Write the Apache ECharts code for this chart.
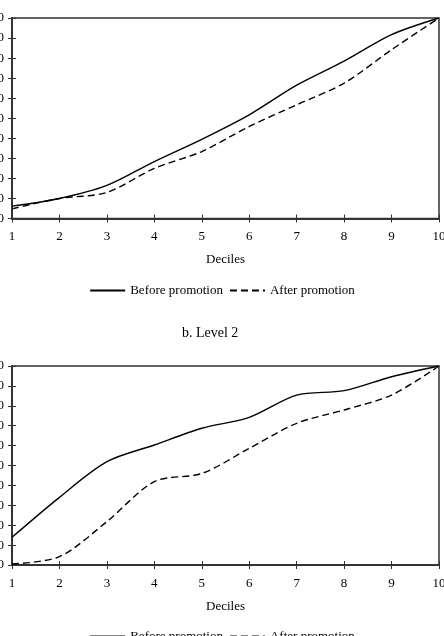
<!DOCTYPE html>
<html>
<head>
<meta charset="utf-8">
<script src="https://cdn.jsdelivr.net/npm/echarts@6/dist/echarts.min.js"></script>
<style>
  html, body { margin: 0; padding: 0; background: #fff; }
  #main { width: 444px; height: 636px; }
</style>
</head>
<body>
<div id="main"></div>
<script>
// deciles on the x axis
const deciles = [1, 2, 3, 4, 5, 6, 7, 8, 9, 10]
// panel a (level 1)
const level1Before = [6.2, 10, 16.5, 28.4, 39.5, 51.7, 66.5, 78.5, 91.7, 100]
const level1After = [4.8, 10, 13, 25, 33.4, 45.9, 56.7, 67.5, 84.2, 100]
// panel b (level 2)
const level2Before = [13.9, 34, 51.9, 60.3, 68.7, 74.2, 85.4, 87.6, 94.6, 100]
const level2After = [0.5, 4.2, 21.8, 41.9, 46, 58.6, 71.2, 77.9, 85.4, 100]
const yTicks = [0, 10, 20, 30, 40, 50, 60, 70, 80, 90, 100]

const font = 'Liberation Serif'
const pairs = vals => deciles.map((d, i) => [d, vals[i]])

// 轴：一个带刻度标签（刻度朝外），一个只画朝内的刻度，拼成十字刻度
const xAxes = gridIndex => ([
    {
        type: 'value', gridIndex, min: 1, max: 10, interval: 1,
        name: 'Deciles', nameLocation: 'middle', nameGap: 35,
        nameTextStyle: { fontFamily: font, fontSize: 13, color: '#000' },
        axisLine: { lineStyle: { color: '#333', width: 2 } },
        axisTick: { length: 4, lineStyle: { color: '#333', width: 1 } },
        axisLabel: { fontFamily: font, fontSize: 13, color: '#000', margin: 12 },
        splitLine: { show: false }
    },
    {
        type: 'value', gridIndex, min: 1, max: 10, interval: 1, position: 'bottom',
        axisLine: { show: false },
        axisTick: { inside: true, length: 4, lineStyle: { color: '#333', width: 1 } },
        axisLabel: { show: false },
        splitLine: { show: false }
    }
])
const yAxes = gridIndex => ([
    {
        type: 'value', gridIndex, min: yTicks[0], max: yTicks[yTicks.length - 1], interval: 10,
        axisLine: { show: true, lineStyle: { color: '#333', width: 2 } },
        axisTick: { show: true, length: 4, lineStyle: { color: '#333', width: 1 } },
        axisLabel: { fontFamily: font, fontSize: 13, color: '#000', margin: 8 },
        splitLine: { show: false }
    },
    {
        type: 'value', gridIndex, min: 0, max: 100, interval: 10, position: 'left',
        axisLine: { show: false },
        axisTick: { show: true, inside: true, length: 4, lineStyle: { color: '#333', width: 1 } },
        axisLabel: { show: false },
        splitLine: { show: false }
    }
])

const line = (name, vals, idx, dashed) => ({
    name,
    type: 'line',
    xAxisIndex: idx,
    yAxisIndex: idx,
    data: pairs(vals),
    smooth: 0.3,
    symbol: 'none',
    lineStyle: { color: '#000', width: 1.4, type: dashed ? [7, 4] : 'solid' },
    itemStyle: { color: '#000' }
})

const legend = top => ({
    top,
    left: 'center',
    itemWidth: 35,
    itemHeight: 10,
    itemGap: 6,
    itemStyle: { opacity: 0 },
    textStyle: { fontFamily: font, fontSize: 13, color: '#000' },
    data: ['Before promotion', 'After promotion']
})

const grid = (top, height) => ({
    left: 12, top, width: 427, height,
    containLabel: false, outerBoundsMode: 'none',
    show: true, borderColor: '#333', borderWidth: 1.5, backgroundColor: 'transparent'
})

const chart = echarts.init(document.getElementById('main'))
chart.setOption({
    animation: false,
    title: {
        text: 'b. Level 2', left: 177, top: 321,
        textStyle: { fontFamily: font, fontSize: 14, fontWeight: 'normal', color: '#000' }
    },
    legend: [legend(279), legend(625)],
    grid: [grid(18, 200.5), grid(366, 199)],
    xAxis: [...xAxes(0), ...xAxes(1)],
    yAxis: [...yAxes(0), ...yAxes(1)],
    series: [
        line('Before promotion', level1Before, 0, false),
        line('After promotion', level1After, 0, true),
        line('Before promotion', level2Before, 2, false),
        line('After promotion', level2After, 2, true)
    ]
})
</script>
</body>
</html>
